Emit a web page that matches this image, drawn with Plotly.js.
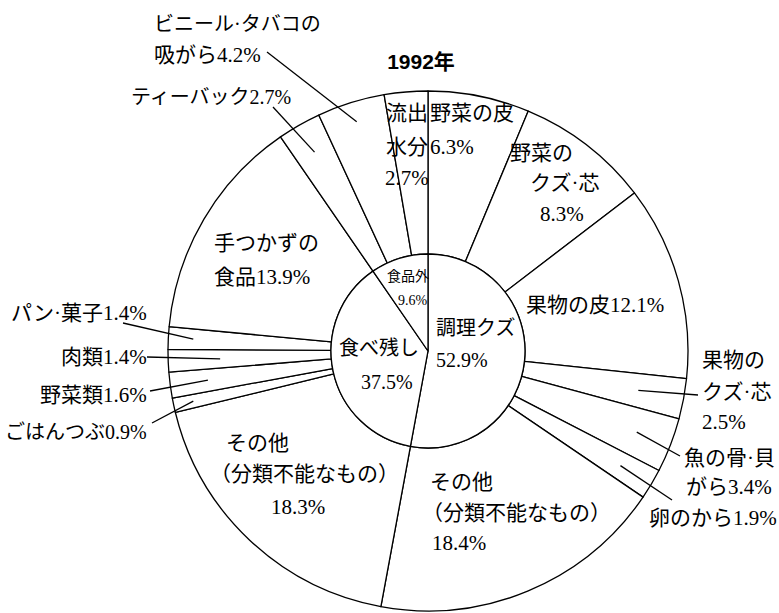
<!DOCTYPE html>
<html>
<head>
<meta charset="utf-8">
<script src="https://cdn.plot.ly/plotly-3.0.1.min.js"></script>
<style>html,body{margin:0;padding:0;background:#fff;}#chart{width:779px;height:613px;}</style>
</head>
<body>
<div id="chart"></div>
<script>
// ---- data ----
const titleText = '1992年';
const innerLabels = ['調理クズ', '食べ残し', '食品外'];
const innerValues = [52.9, 37.5, 9.6];
const outerLabels = ['野菜の皮', '野菜のクズ·芯', '果物の皮', '果物のクズ·芯', '魚の骨·貝がら', '卵のから',
  'その他（分類不能なもの）', 'その他（分類不能なもの） ', 'ごはんつぶ', '野菜類', '肉類', 'パン·菓子',
  '手つかずの食品', 'ティーバック', 'ビニール·タバコの吸がら', '流出水分'];
const outerParents = ['調理クズ', '調理クズ', '調理クズ', '調理クズ', '調理クズ', '調理クズ', '調理クズ',
  '食べ残し', '食べ残し', '食べ残し', '食べ残し', '食べ残し', '食べ残し', '食品外', '食品外', '食品外'];
const outerValues = [6.3, 8.3, 12.1, 2.5, 3.4, 1.9, 18.4, 18.3, 0.9, 1.6, 1.4, 1.4, 13.9, 2.7, 4.2, 2.7];

// ---- layout geometry (pixels) ----
const W = 779, H = 613;
const CX = 428, CY = 351, R = 260, RI = 97;
const px = x => x / W;
const py = y => 1 - y / H;
const fmt = v => v.toFixed(1) + '%';

const FONT = '"Liberation Serif", "Noto Sans CJK JP", serif';
const INK = '#000';

// text lines: [text, x, y, xanchor, size]; {n} = outer value n, {in} = inner value n
const textLines = [
  ['野菜の皮', 428, 113, 'left', 21],
  ['{0}', 428, 147, 'left', 21],
  ['野菜の', 541, 153, 'center', 21],
  ['クズ·芯', 565, 183, 'center', 21],
  ['{1}', 562, 214, 'center', 21],
  ['果物の皮{2}', 524, 305, 'left', 21],
  ['果物の', 700, 360, 'left', 21],
  ['クズ·芯', 700, 392, 'left', 21],
  ['{3}', 700, 422, 'left', 21],
  ['魚の骨·貝', 682, 458, 'left', 21],
  ['がら{4}', 684, 487, 'left', 21],
  ['卵のから{5}', 647, 518, 'left', 21],
  ['その他', 428, 482, 'left', 21],
  ['（分類不能なもの）', 420, 513, 'left', 21],
  ['{6}', 430, 543, 'left', 21],
  ['その他', 224, 443, 'left', 21],
  ['（分類不能なもの）', 304, 474, 'center', 21],
  ['{7}', 298, 507, 'center', 21],
  ['ごはんつぶ{8}', 149, 432, 'right', 20],
  ['野菜類{9}', 149, 395, 'right', 21],
  ['肉類{10}', 149, 357, 'right', 21],
  ['パン·菓子{11}', 149, 313, 'right', 21],
  ['手つかずの', 212, 243, 'left', 21],
  ['食品{12}', 212, 277, 'left', 21],
  ['ティーバック{13}', 129, 97, 'left', 20],
  ['ビニール·タバコの', 152, 24, 'left', 20],
  ['吸がら{14}', 152, 55, 'left', 21],
  ['流出', 407, 113, 'center', 21],
  ['水分', 407, 147, 'center', 21],
  ['{15}', 407, 178, 'center', 21],
  ['調理クズ', 434, 328, 'left', 20],
  ['{i0}', 434, 360, 'left', 20],
  ['食べ残し', 337, 348, 'left', 20],
  ['{i1}', 359, 382, 'left', 20],
  ['食品外', 385, 276, 'left', 14],
  ['{i2}', 396, 300, 'left', 14]
];

// leader lines: [outer slice index, radius of inner end (px), label end x, label end y]
const leaders = [
  [3, 214, 698, 395],
  [4, 224, 680, 456],
  [5, 224, 672, 500],
  [8, 240, 152, 423],
  [9, 222, 150, 391],
  [10, 208, 147, 357],
  [11, 235, 123, 323],
  [13, 229, 273, 107],
  [14, 240, 267, 52]
];

// ---- build ----
const total = outerValues.reduce((a, b) => a + b, 0);
const midAngle = [];
let cum = 0;
outerValues.forEach(v => { midAngle.push((cum + v / 2) / total * 2 * Math.PI); cum += v; });

function fill(t) {
  return t.replace(/\{i(\d+)\}/g, (m, n) => fmt(innerValues[+n]))
          .replace(/\{(\d+)\}/g, (m, n) => fmt(outerValues[+n]));
}

const annotations = textLines.map(([t, x, y, xa, s]) => ({
  text: fill(t), x: px(x), y: py(y), xref: 'paper', yref: 'paper',
  xanchor: xa, yanchor: 'middle', showarrow: false,
  font: { family: FONT, size: s, color: INK }
}));

const shapes = leaders.map(([i, rr, x2, y2]) => {
  const a = midAngle[i];
  const x1 = CX + rr * Math.sin(a), y1 = CY - rr * Math.cos(a);
  return { type: 'line', xref: 'paper', yref: 'paper',
    x0: px(x1), y0: py(y1), x1: px(x2), y1: py(y2),
    line: { color: INK, width: 1.3 } };
});

const lineStyle = { color: INK, width: 1.3 };
const outer = {
  type: 'pie', labels: outerLabels, values: outerValues, customdata: outerParents,
  sort: false, direction: 'clockwise', rotation: 0, hole: RI / R,
  textinfo: 'none', hoverinfo: 'none', showlegend: false,
  marker: { colors: outerValues.map(() => '#fff'), line: lineStyle },
  domain: { x: [px(CX - R), px(CX + R)], y: [py(CY + R), py(CY - R)] }
};
const inner = {
  type: 'pie', labels: innerLabels, values: innerValues,
  sort: false, direction: 'clockwise', rotation: 0,
  textinfo: 'none', hoverinfo: 'none', showlegend: false,
  marker: { colors: innerValues.map(() => '#fff'), line: lineStyle },
  domain: { x: [px(CX - RI), px(CX + RI)], y: [py(CY + RI), py(CY - RI)] }
};

const layout = {
  width: W, height: H,
  margin: { l: 0, r: 0, t: 0, b: 0 },
  paper_bgcolor: '#fff', plot_bgcolor: '#fff',
  title: {
    text: '<b>' + titleText + '</b>', x: px(421), xanchor: 'center',
    y: py(62), yanchor: 'middle', xref: 'paper', yref: 'paper',
    font: { family: '"Liberation Sans", "Noto Sans CJK JP", sans-serif', size: 21, color: INK }
  },
  annotations: annotations,
  shapes: shapes
};

Plotly.newPlot('chart', [outer, inner], layout, { displayModeBar: false, staticPlot: true });
</script>
</body>
</html>
